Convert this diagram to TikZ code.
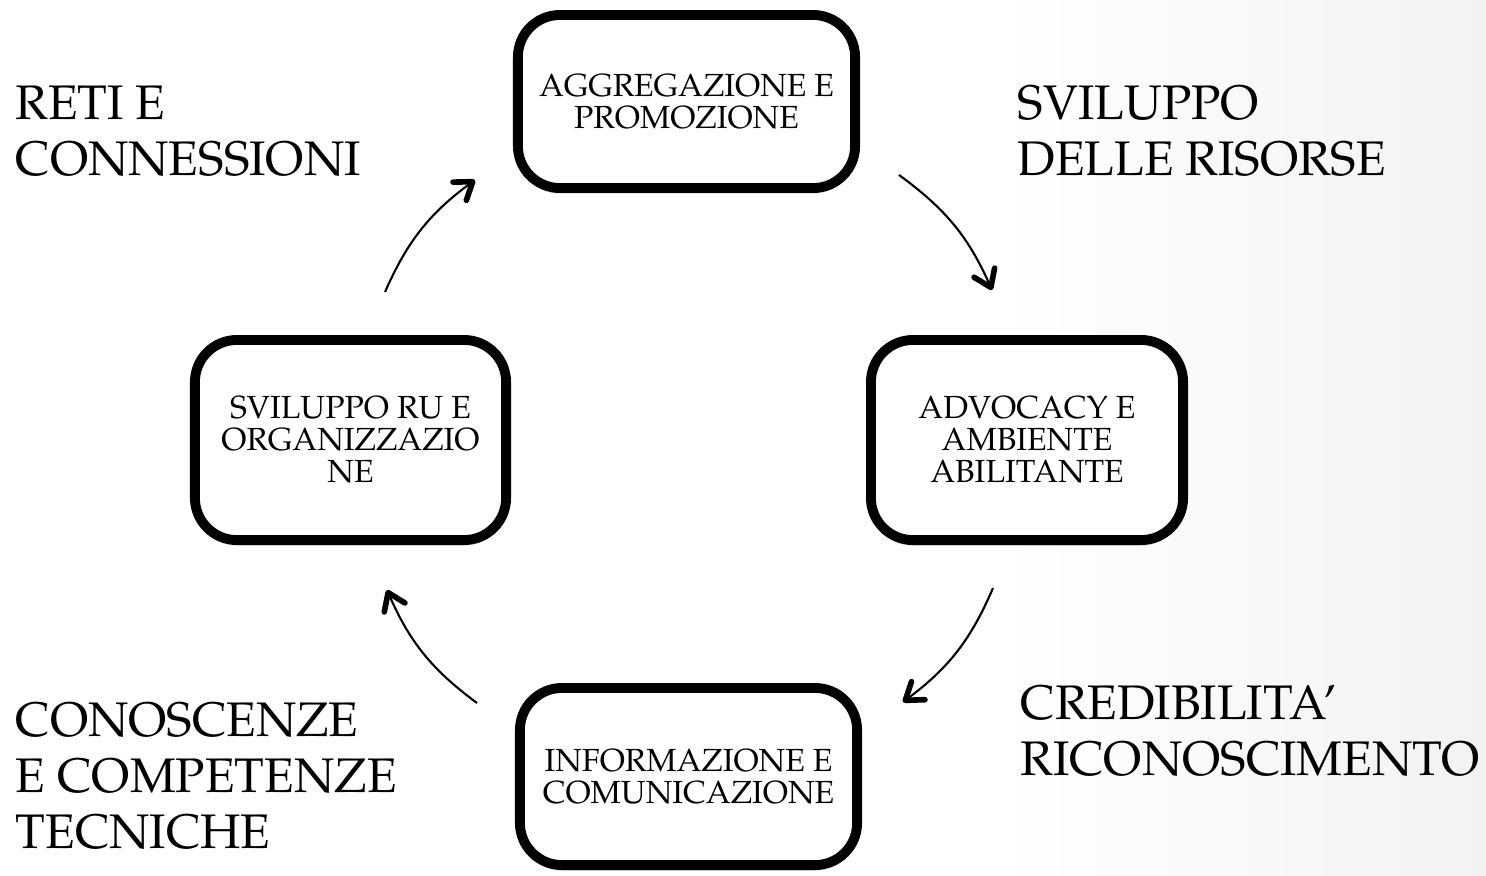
\documentclass[tikz,border=0pt]{standalone}
\usepackage[T1]{fontenc}
\usepackage{mathpazo}
\usetikzlibrary{arrows.meta,shadows}

\tikzset{
  stagebox/.style={draw, line width=2.8pt, rounded corners=0.42cm, fill=white,
    align=center, inner sep=0pt, font=\fontsize{9.1}{9.1}\selectfont,
    drop shadow={shadow xshift=0pt, shadow yshift=-1.6pt, opacity=0.3}},
  sidelabel/.style={anchor=north west, inner sep=0pt, align=left,
    font=\fontsize{13.8}{16}\selectfont},
  cyclearrow/.style={line width=0.6pt, bend left=15,
    -{Straight Barb[length=4.6pt, width=6.4pt, line width=1.6pt, round]}}
}

\begin{document}
\begin{tikzpicture}[x=0.01cm, y=-0.01cm]
\useasboundingbox (0,0) rectangle (1486,875);
\fill[white] (0,0) rectangle (1486,875);
\shade[left color=white, right color=black!5] (1000,0) rectangle (1486,875);

% the four stages
\node[stagebox, minimum width=3.37cm, minimum height=1.73cm] (aggr) at (686.5,101.5)
  {AGGREGAZIONE E\\PROMOZIONE};
\node[stagebox, minimum width=3.12cm, minimum height=2.0cm] (advo) at (1027,440)
  {ADVOCACY E\\AMBIENTE\\ABILITANTE};
\node[stagebox, minimum width=3.37cm, minimum height=1.77cm] (info) at (688.5,776.5)
  {INFORMAZIONE E\\COMUNICAZIONE};
\node[stagebox, minimum width=3.11cm, minimum height=2.0cm] (svru) at (350.5,440)
  {SVILUPPO RU E\\ORGANIZZAZIO\\NE};

% side labels
\node[sidelabel] (reti) at (15,85) {RETI E\\CONNESSIONI};
\node[sidelabel] (risorse) at (1017,85) {SVILUPPO\\DELLE RISORSE};
\node[sidelabel] (cred) at (1020,685) {CREDIBILITA'\\RICONOSCIMENTO};
\node[sidelabel] (cono) at (15,702) {CONOSCENZE\\E COMPETENZE\\TECNICHE};

% arrow ends
\coordinate (up1) at (385,292);  \coordinate (up2) at (475,180);
\coordinate (rt1) at (899,175);  \coordinate (rt2) at (992,290);
\coordinate (dn1) at (993,588);  \coordinate (dn2) at (903,702);
\coordinate (lf1) at (477,703);  \coordinate (lf2) at (387,590);

\draw[cyclearrow] (up1) to (up2);
\draw[cyclearrow] (rt1) to (rt2);
\draw[cyclearrow] (dn1) to (dn2);
\draw[cyclearrow] (lf1) to (lf2);
\end{tikzpicture}
\end{document}
